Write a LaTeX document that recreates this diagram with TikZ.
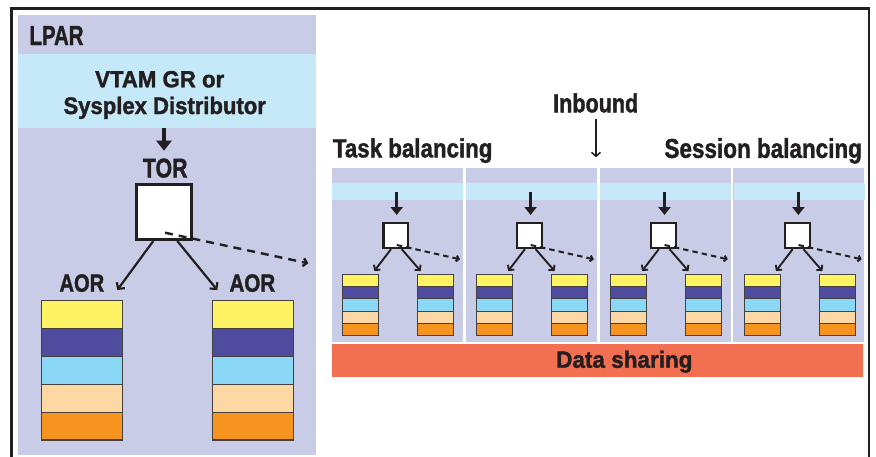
\documentclass[tikz,border=0pt]{standalone}
\usepackage{fontspec}
\setmainfont{Liberation Sans}[BoldFeatures={FakeBold=1.6}]
\usetikzlibrary{arrows.meta,calc}
\definecolor{lav}{HTML}{C8CCE7}
\definecolor{lband}{HTML}{C5E9F8}
\definecolor{ink}{HTML}{231F20}
\definecolor{cyel}{HTML}{FFF263}
\definecolor{cdblue}{HTML}{4F4C9F}
\definecolor{clblue}{HTML}{8AD8F5}
\definecolor{cpeach}{HTML}{FDD8A5}
\definecolor{corange}{HTML}{F7941F}
\definecolor{dshare}{HTML}{F26F52}
\newcommand{\fittext}[3]{\resizebox{#1pt}{#2pt}{\bfseries #3}}
\tikzset{
  lbl/.style={inner sep=0pt, anchor=base west, text=ink},
  layer/.style={draw=ink!85, line width=1.2pt},
  bigbox/.style={draw=ink, fill=white, line width=2.8pt, minimum size=55.2pt, inner sep=0pt},
  smallbox/.style={draw=ink, fill=white, line width=2.2pt, minimum size=24.7pt, inner sep=0pt},
  fatarrow/.style={draw=ink, line width=4pt, -{Triangle[width=15pt,length=10pt]}},
  fatarrowsm/.style={draw=ink, line width=3.4pt, -{Triangle[width=12pt,length=8pt]}},
  barbarrow/.style={draw=ink, line width=2.2pt, -{Straight Barb[length=4.5pt,width=10pt]}},
  barbarrowsm/.style={draw=ink, line width=1.9pt, -{Straight Barb[length=3.5pt,width=8pt]}},
  dasharrow/.style={draw=ink, line width=2.4pt, dash pattern=on 8pt off 6pt, -{Straight Barb[length=3.5pt,width=8pt]}},
  dasharrowsm/.style={draw=ink, line width=2pt, dash pattern=on 5.5pt off 4pt, -{Straight Barb[length=2.5pt,width=6pt]}},
  thinarrow/.style={draw=ink, line width=1.5pt, -{Straight Barb[length=4pt,width=9pt]}},
}
\begin{document}
\begin{tikzpicture}[x=1pt,y=-1pt]
\useasboundingbox (0,0) rectangle (876,456);
\clip (0,0) rectangle (876,456);
\fill[white] (0,0) rectangle (876,456);
% outer frame
\draw[ink, line width=2.6pt] (11.3,8.3) rectangle (869,475);
% LPAR panel
\fill[lav] (18,15) rectangle (316,455);
\node[fill=lband, minimum width=298pt, minimum height=74pt, anchor=north west, inner sep=0pt] (band) at (18,54) {};
\node[lbl] (lpar) at (29.3,45) {\fittext{54}{19}{LPAR}};
\node[lbl] (vtam1) at (95,87.3) {\fittext{129}{16.3}{VTAM GR or}};
\node[lbl] (vtam2) at (63.3,114) {\fittext{202.4}{17.3}{Sysplex Distributor}};
\node[lbl] (torlbl) at (142.7,177.5) {\fittext{44.6}{19}{TOR}};
\coordinate (torin) at (164,150.7);
\draw[fatarrow] (band.south -| torin) -- (torin);
\node[bigbox] (tor) at (164,212) {};
\node[lbl] (aorL) at (59.3,291.7) {\fittext{44.7}{17.4}{AOR}};
\node[lbl] (aorR) at (229.3,291.7) {\fittext{45.7}{17.4}{AOR}};
\coordinate (tipL) at (117.3,290);
\coordinate (tipR) at (217.3,290);
\coordinate (tipD) at (308.3,263.3);
\draw[barbarrow] ($(tor.south)+(-10.7,0)$) -- (tipL);
\draw[barbarrow] ($(tor.south)+(13.3,0)$) -- (tipR);
\draw[dasharrow] ($(tor.center)+(1,20.7)$) -- (tipD);
% big stacks
\foreach \xa/\xb in {41.7/122.7, 212.7/293.7}{
  \foreach \c [count=\i from 0] in {cyel,cdblue,clblue,cpeach,corange}{
    \filldraw[fill=\c, layer] (\xa,{300.7+\i*27.86}) rectangle (\xb,{300.7+(\i+1)*27.86});
  }
}
% right side labels
\node[lbl] (inb) at (553,112.3) {\fittext{85}{19}{Inbound}};
\coordinate (inbtop) at (596,119.3);
\coordinate (inbtip) at (596,157.3);
\draw[thinarrow] (inbtop) -- (inbtip);
\node[lbl] (task) at (332.7,157.3) {\fittext{159.6}{19}{Task balancing}};
\node[lbl] (sess) at (664.3,157.8) {\fittext{197.4}{19.6}{Session balancing}};
% small panels
\foreach \k in {0,1,2,3}{
  \pgfmathsetmacro{\px}{331.7+133.9*\k}
  \begin{scope}[xshift=\px pt]
    \fill[lav] (0,167.5) rectangle (131,341.7);
    \node[fill=lband, minimum width=131pt, minimum height=17.3pt, anchor=north west, inner sep=0pt] (sband\k) at (0,182.7) {};
    \coordinate (sin\k) at (65,215);
    \draw[fatarrowsm] (65,192.3) -- (sin\k);
    \node[smallbox] (sb\k) at (64.1,235.7) {};
    \coordinate (stl\k) at (42.6,271);
    \coordinate (str\k) at (89,271);
    \coordinate (std\k) at (128.3,259.3);
    \draw[barbarrowsm] ($(sb\k.south)+(-4.8,0)$) -- (stl\k);
    \draw[barbarrowsm] ($(sb\k.south)+(5.9,0)$) -- (str\k);
    \draw[dasharrowsm] ($(sb\k.center)+(1,9.3)$) -- (std\k);
    \foreach \xa/\xb in {11/47, 85.6/121.6}{
      \foreach \c [count=\i from 0] in {cyel,cdblue,clblue,cpeach,corange}{
        \filldraw[fill=\c, draw=ink!85, line width=1pt] (\xa,{274.3+\i*12.28}) rectangle (\xb,{274.3+(\i+1)*12.28});
      }
    }
  \end{scope}
}
% data sharing
\node[fill=dshare, minimum width=531.3pt, minimum height=33pt, anchor=north west, inner sep=0pt] (ds) at (331.7,344) {};
\node[lbl] (dslbl) at (556,367.7) {\fittext{136.3}{17}{Data sharing}};
\end{tikzpicture}
\end{document}
